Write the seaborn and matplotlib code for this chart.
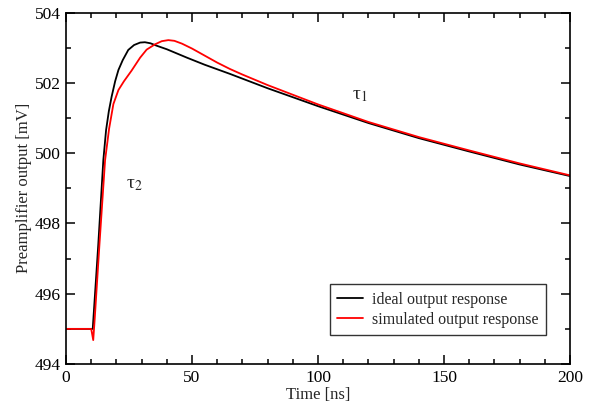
import matplotlib
matplotlib.use("Agg")
import matplotlib.pyplot as plt
import pandas as pd
import seaborn as sns

# Ideal preamplifier response (time in ns, output in mV)
ideal_t = [0, 10.6, 12.8, 14.8, 15.9, 17.0, 18.1, 19.5, 20.8, 22.5, 24.7, 27.0,
           29.4, 31.3, 33.5, 36.0, 40.0, 44.0, 48.0, 55.0, 65.0, 80.0, 100.0,
           120.0, 140.0, 160.0, 180.0, 200.0]
ideal_v = [495.0, 495.0, 497.4, 499.8, 500.66, 501.2, 501.61, 502.05, 502.37,
           502.65, 502.94, 503.08, 503.15, 503.16, 503.13, 503.06, 502.96,
           502.84, 502.72, 502.52, 502.26, 501.85, 501.34, 500.86, 500.43,
           500.05, 499.68, 499.35]

# Simulated preamplifier response
sim_t = [0, 10.0, 10.8, 11.4, 13.3, 15.5, 17.1, 18.8, 20.8, 23.0, 26.0, 29.4,
         32.0, 35.3, 38.0, 40.6, 43.0, 46.0, 50.0, 54.5, 60.0, 65.0, 70.0,
         80.0, 100.0, 120.0, 140.0, 160.0, 180.0, 200.0]
sim_v = [495.0, 495.0, 494.68, 495.3, 497.44, 499.8, 500.7, 501.4, 501.8,
         502.05, 502.35, 502.72, 502.95, 503.1, 503.19, 503.22, 503.2,
         503.12, 502.98, 502.8, 502.58, 502.4, 502.24, 501.94, 501.39,
         500.89, 500.46, 500.08, 499.71, 499.37]

series_names = ["ideal output response", "simulated output response"]
series_colors = ["black", "red"]

sns.set_theme(style="ticks")
plt.rcParams["font.family"] = ["Liberation Serif", "DejaVu Serif"]
plt.rcParams["mathtext.fontset"] = "stix"

df = pd.concat([
    pd.DataFrame({"t": ideal_t, "v": ideal_v, "series": series_names[0]}),
    pd.DataFrame({"t": sim_t, "v": sim_v, "series": series_names[1]}),
])

fig = plt.figure(figsize=(5.91, 4.05), dpi=100)
ax = fig.add_axes([0.1117, 0.1012, 0.8528, 0.8674])

sns.lineplot(data=df, x="t", y="v", hue="series", hue_order=series_names,
             palette=series_colors, linewidth=1.3, sort=False, ax=ax,
             legend=True)

ax.set_xlim(0, 200)
ax.set_ylim(494, 504)
ax.set_xticks([0, 50, 100, 150, 200])
ax.set_xticks(range(0, 201, 10), minor=True)
ax.set_yticks([494, 496, 498, 500, 502, 504])
ax.set_yticks(range(494, 505, 1), minor=True)
ax.tick_params(which="both", direction="in", top=True, right=True,
               labelsize=12.5, width=1.1, colors="black")
ax.tick_params(which="major", length=6.5, pad=4)
ax.tick_params(which="minor", length=3.5)
for s in ax.spines.values():
    s.set_linewidth(1.2)
    s.set_color("black")

ax.set_xlabel("Time [ns]", fontsize=12, labelpad=1)
ax.set_ylabel("Preamplifier output [mV]", fontsize=12, labelpad=2)

ax.text(113.5, 501.65, "τ$_{1}$", fontsize=14, ha="left", va="center")
ax.text(24.0, 499.1, "τ$_{2}$", fontsize=14, ha="left", va="center")

leg = ax.legend(loc="lower right", bbox_to_anchor=(0.952, 0.083),
                fontsize=11.5, frameon=True, fancybox=False, edgecolor="black",
                handlelength=1.6, handletextpad=0.6, borderpad=0.45,
                labelspacing=0.25, borderaxespad=0)
leg.get_frame().set_linewidth(1.0)
for h in leg.get_lines():
    h.set_linewidth(1.3)

fig.savefig("out.png", dpi=100)
